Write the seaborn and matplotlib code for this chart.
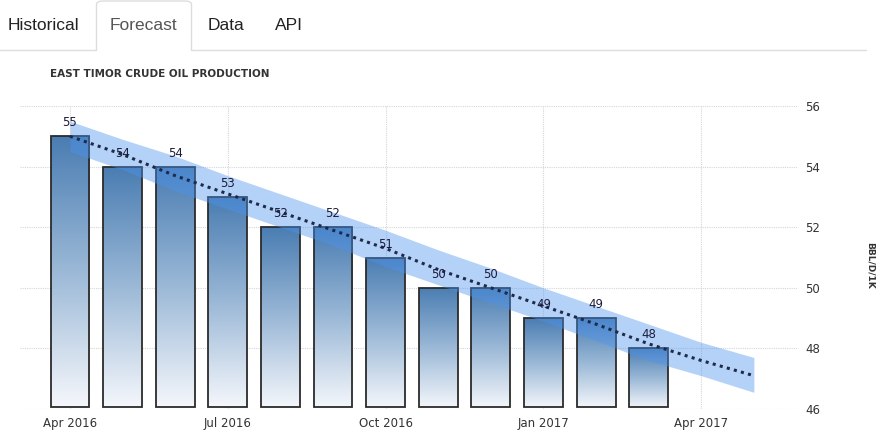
import matplotlib
matplotlib.use("Agg")
import matplotlib.pyplot as plt
import numpy as np
import pandas as pd
import seaborn as sns
from matplotlib.colors import LinearSegmentedColormap
from matplotlib.patches import FancyBboxPatch, Rectangle
from matplotlib.lines import Line2D

# %% data
months = ["2016-04", "2016-05", "2016-06", "2016-07", "2016-08", "2016-09",
          "2016-10", "2016-11", "2016-12", "2017-01", "2017-02", "2017-03"]
production = [55, 54, 54, 53, 52, 52, 51, 50, 50, 49, 49, 48]

forecast_months = months + ["2017-04", "2017-05"]
forecast = [55.0, 54.4, 53.7, 53.1, 52.5, 51.9, 51.3, 50.6, 50.0, 49.4, 48.8, 48.15, 47.6, 47.1]
forecast_upper = [55.5, 54.9, 54.35, 53.7, 53.1, 52.5, 51.9, 51.25, 50.65, 50.0, 49.4, 48.8, 48.2, 47.7]
forecast_lower = [54.5, 53.9, 53.2, 52.6, 52.0, 51.4, 50.7, 50.1, 49.5, 48.9, 48.25, 47.6, 47.1, 46.55]

tick_labels = ["Apr 2016", "Jul 2016", "Oct 2016", "Jan 2017", "Apr 2017"]
y_ticks = [46, 48, 50, 52, 54, 56]
tabs = ["Historical", "Forecast", "Data", "API"]

title = "EAST TIMOR CRUDE OIL PRODUCTION"
unit = "BBL/D/1K"

# month offsets from the first month
start = pd.Period(months[0], freq="M")
x_bars = [(pd.Period(m, freq="M") - start).n for m in months]
x_fc = [(pd.Period(m, freq="M") - start).n for m in forecast_months]
x_ticks = [(pd.Period(pd.to_datetime(t, format="%b %Y"), freq="M") - start).n for t in tick_labels]

df = pd.DataFrame({"month": x_bars, "value": production})

# %% figure
W, H = 881, 440
fig = plt.figure(figsize=(W / 100, H / 100), dpi=100)
sns.set_style("white")
plt.rcParams["font.family"] = ["DejaVu Sans"]


def fx(px):
    return px / W


def fy(py):
    return 1 - py / H


ax = fig.add_axes([fx(20), fy(409), fx(797) - fx(20), fy(106) - fy(409)])

sns.barplot(data=df, x="month", y="value", native_scale=True, width=0.74,
            errorbar=None, color="#4a7db2", ax=ax, zorder=2)

ymin = 46
cmap = LinearSegmentedColormap.from_list("bar", ["#f6f8fc", "#9cb9d7", "#4a7db2"])
grad = np.linspace(0, 1, 256).reshape(-1, 1)
for p, v in zip(ax.patches, production):
    p.set_y(ymin + 0.07)
    p.set_height(v - ymin - 0.07)
    p.set_facecolor("none")
    p.set_edgecolor("#2b2b2b")
    p.set_linewidth(1.3)
    p.set_joinstyle("miter")
    p.set_zorder(3)
    x0 = p.get_x()
    im = ax.imshow(grad, extent=[x0, x0 + p.get_width(), ymin, v], origin="lower",
                   aspect="auto", cmap=cmap, zorder=2)
    im.set_clip_path(p)
    ax.annotate(f"{v}", (x0 + p.get_width() / 2, v), xytext=(0, 5),
                textcoords="offset points", ha="center", va="bottom",
                fontsize=8.5, color="#1c1c3c", zorder=6)

# forecast band and line
ax.fill_between(x_fc, forecast_lower, forecast_upper, color="#4d94f0", alpha=0.42,
                linewidth=0, zorder=4)
ax.plot(x_fc, forecast, color="#1f2a48", linestyle=(0, (1, 1.4)), linewidth=2.2, zorder=5)

ax.set_xlim(-0.95, 13.82)
ax.set_ylim(46, 56)
ax.set_xticks(x_ticks)
ax.set_xticklabels(tick_labels)
ax.set_yticks(y_ticks)
ax.yaxis.tick_right()
ax.set_xlabel("")
ax.set_ylabel("")
ax.grid(True, color="#d6d6d6", linestyle=(0, (1, 1)), linewidth=0.8, zorder=0)
ax.set_axisbelow(True)
ax.tick_params(axis="x", length=4, color="#cccccc", pad=2, labelsize=8.5, labelcolor="#333333")
ax.tick_params(axis="y", length=0, pad=6, labelsize=8.5, labelcolor="#333333")
sns.despine(ax=ax, left=True, bottom=True)

# %% page chrome: tabs, title, unit
fig.add_artist(Line2D([0, fx(96)], [fy(50.5)] * 2, color="#dddddd", lw=1))
fig.add_artist(Line2D([fx(192), fx(866)], [fy(50.5)] * 2, color="#dddddd", lw=1))
fig.add_artist(FancyBboxPatch((fx(96.5), fy(56)), fx(95), fy(1) - fy(56),
                              boxstyle="round,pad=0,rounding_size=0.008",
                              facecolor="white", edgecolor="#dddddd", lw=1, zorder=0))
fig.add_artist(Rectangle((fx(95), fy(60)), fx(98), fy(51) - fy(60),
                         facecolor="white", edgecolor="none", zorder=0.5))

tab_x = [8, 110, 208, 275]
for t, x in zip(tabs, tab_x):
    fig.text(fx(x), fy(25), t, fontsize=12.5, family="Liberation Sans",
             color="#555555" if t == "Forecast" else "#222222", va="center", ha="left")

fig.text(fx(50), fy(74), title, fontsize=7.5, weight="bold", color="#333333",
         va="center", ha="left")
fig.text(fx(870), fy(265), unit, fontsize=6.5, weight="bold", color="#333333",
         rotation=270, va="center", ha="center")

fig.savefig("out.png", dpi=100)
